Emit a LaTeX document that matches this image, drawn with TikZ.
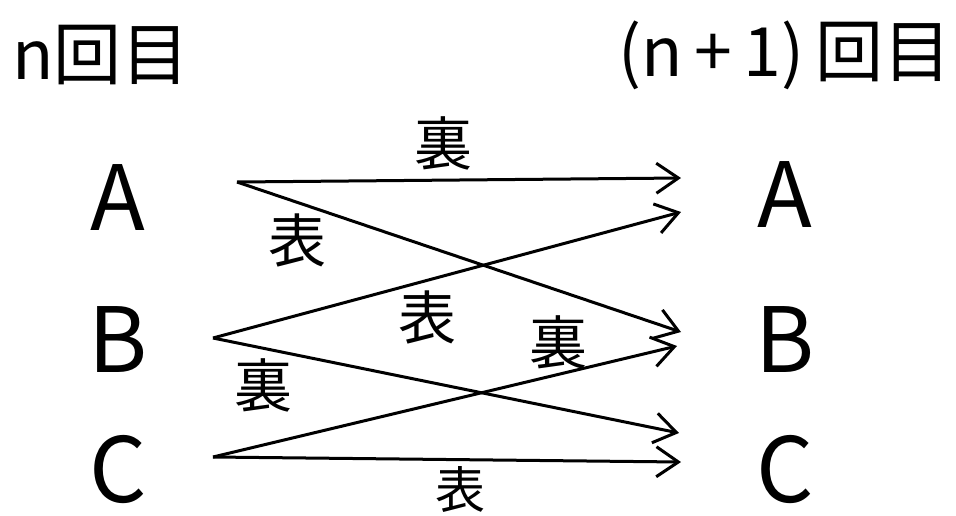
\documentclass[tikz,border=0pt]{standalone}
\usepackage{fontspec}
\setmainfont{Noto Sans CJK JP}
\usetikzlibrary{arrows.meta}
\tikzset{
  letter/.style={font=\fontsize{90}{90}\selectfont, inner sep=0pt},
  kanji/.style={font=\fontsize{58}{58}\selectfont, inner sep=0pt},
  head/.style={font=\fontsize{68}{68}\selectfont, inner sep=0pt},
  flow/.style={line width=3pt, -{Straight Barb[length=22pt,width=30pt,line width=3pt]}}
}
\begin{document}
\begin{tikzpicture}[x=1pt,y=-1pt]
\useasboundingbox (0,0) rectangle (956,515);
% headings
\node[head, anchor=west] (hl) at (12,55) {n回目};
\node[head, anchor=east] (hr) at (952,55) {(n\,+\,1)\,回目};
% letters
\node[letter] (LA) at (118,198) {A};
\node[letter] (LB) at (118,340) {B};
\node[letter] (LC) at (118,470) {C};
\node[letter] (RA) at (785,195) {A};
\node[letter] (RB) at (785,340) {B};
\node[letter] (RC) at (785,470) {C};
% start / end coordinates
\coordinate (sA) at (237,182);
\coordinate (sB) at (213,338);
\coordinate (sC) at (213,457);
\coordinate (tAA) at (681,178);
\coordinate (tBA) at (681,212);
\coordinate (tAB) at (681,332);
\coordinate (tCB) at (677,346);
\coordinate (tBC) at (679,433);
\coordinate (tCC) at (681,462);
% arrows
\draw[flow] (sA) -- (tAA);
\draw[flow] (sA) -- (tAB);
\draw[flow] (sB) -- (tBA);
\draw[flow] (sB) -- (tBC);
\draw[flow] (sC) -- (tCB);
\draw[flow] (sC) -- (tCC);
% labels
\node[kanji] (k1) at (443,143) {裏};
\node[kanji] (k2) at (297,240) {表};
\node[kanji] (k3) at (427,317) {表};
\node[kanji] (k4) at (558,342) {裏};
\node[kanji] (k5) at (263,385) {裏};
\node[kanji, font=\fontsize{50}{50}\selectfont] (k6) at (460,489) {表};
\end{tikzpicture}
\end{document}
